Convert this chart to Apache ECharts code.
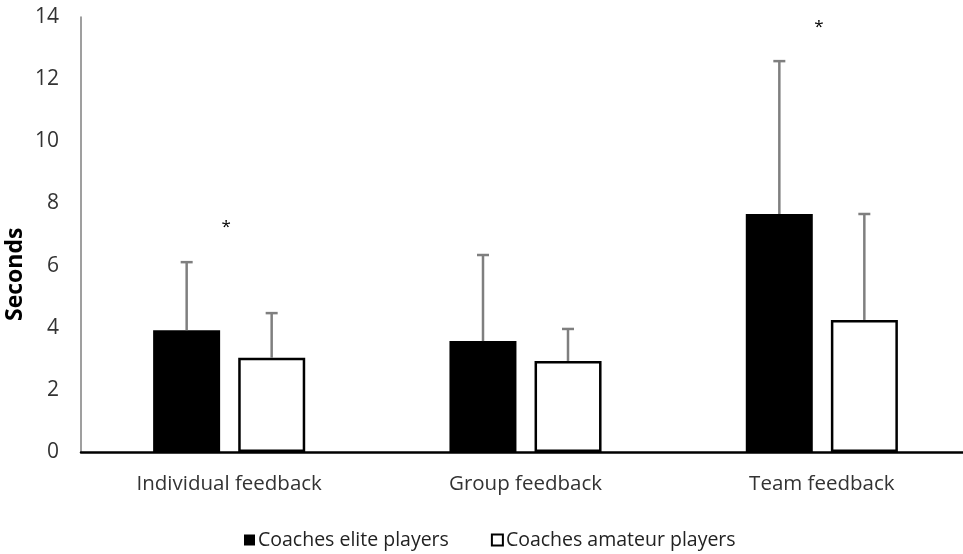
<!DOCTYPE html>
<html>
<head>
<meta charset="utf-8">
<script src="https://cdn.jsdelivr.net/npm/echarts@6/dist/echarts.min.js"></script>
<style>
  html, body { margin: 0; padding: 0; background: #ffffff; overflow: hidden; }
  #chart { width: 980px; height: 554px; }
</style>
</head>
<body>
<div id="chart"></div>
<script>
// Feedback duration by coach group (mean with upper SD whisker)
const categories = ['Individual feedback', 'Group feedback', 'Team feedback'];
const seriesNames = ['Coaches elite players', 'Coaches amateur players'];
const eliteMean = [3.92, 3.57, 7.66];
const eliteUpper = [6.11, 6.34, 12.58];
const amateurMean = [3.03, 2.93, 4.25];
const amateurUpper = [4.47, 3.96, 7.66];
// significance markers: [category index, y value]
const starMarks = [[0, 7.25], [2, 13.68]];
const yTicks = { min: 0, max: 14, interval: 2 };

const FONT = 'Open Sans';
const BAR_W = 67;
const BAR_GAP_PX = 18;
const barGapPct = Math.round(BAR_GAP_PX / BAR_W * 100) + '%';
const halfShift = (BAR_W + BAR_GAP_PX) / 2;

function errorBarSeries(mean, upper, shift) {
  return {
    type: 'custom',
    silent: true,
    z: 5,
    data: mean.map((m, i) => [i, m, upper[i]]),
    renderItem: function (params, api) {
      const base = api.coord([api.value(0), api.value(1)]);
      const top = api.coord([api.value(0), api.value(2)]);
      const x = base[0] + shift;
      const cap = 6;
      const style = { stroke: '#7f7f7f', lineWidth: 2.5 };
      return {
        type: 'group',
        children: [
          { type: 'line', shape: { x1: x, y1: base[1], x2: x, y2: top[1] }, style: style },
          { type: 'line', shape: { x1: x - cap, y1: top[1], x2: x + cap, y2: top[1] }, style: style }
        ]
      };
    }
  };
}

const chart = echarts.init(document.getElementById('chart'), null, { renderer: 'canvas' });
chart.setOption({
  backgroundColor: '#ffffff',
  animation: false,
  grid: { left: 81, top: 17, width: 889, height: 435, containLabel: false },
  legend: {
    left: 239, top: 525,
    itemWidth: 11, itemHeight: 11, itemGap: 42,
    textStyle: { fontFamily: FONT, fontSize: 19.5, color: '#222', padding: [0, 0, 0, -2] },
    data: [
      { name: seriesNames[0], icon: 'rect', itemStyle: { color: '#000', borderColor: '#000', borderWidth: 0 } },
      { name: seriesNames[1], icon: 'rect', itemStyle: { color: '#fff', borderColor: '#000', borderWidth: 2 } }
    ]
  },
  xAxis: {
    type: 'category',
    data: categories,
    axisLine: { lineStyle: { color: '#000', width: 2.5 } },
    axisTick: { show: false },
    axisLabel: { fontFamily: FONT, fontSize: 20.5, color: '#333', margin: 22 }
  },
  yAxis: {
    type: 'value',
    min: yTicks.min, max: yTicks.max, interval: yTicks.interval,
    axisLine: { show: true, lineStyle: { color: '#7f7f7f', width: 1.5 } },
    axisTick: { show: false },
    splitLine: { show: false },
    axisLabel: { fontFamily: FONT, fontSize: 21, color: '#333', margin: 22 }
  },
  graphic: [{
    type: 'text',
    x: 4, y: 321,
    rotation: Math.PI / 2,
    style: { text: 'Seconds', fontFamily: FONT, fontSize: 23, fontWeight: 'bold', fill: '#000' }
  }],
  series: [
    {
      name: seriesNames[0], type: 'bar', data: eliteMean,
      barWidth: BAR_W, barGap: barGapPct,
      itemStyle: { color: '#000', borderColor: '#000', borderWidth: 0 }
    },
    {
      name: seriesNames[1], type: 'bar', data: amateurMean,
      barWidth: BAR_W, barGap: barGapPct,
      itemStyle: { color: '#fff', borderColor: '#000', borderWidth: 2.5 }
    },
    errorBarSeries(eliteMean, eliteUpper, -halfShift),
    errorBarSeries(amateurMean, amateurUpper, halfShift),
    {
      type: 'custom',
      silent: true,
      data: starMarks,
      renderItem: function (params, api) {
        const p = api.coord([api.value(0), api.value(1)]);
        return {
          type: 'text',
          x: p[0] - 3, y: p[1],
          style: { text: '*', fontFamily: FONT, fontSize: 17, fill: '#000', align: 'center', verticalAlign: 'middle' }
        };
      }
    }
  ]
});
</script>
</body>
</html>
